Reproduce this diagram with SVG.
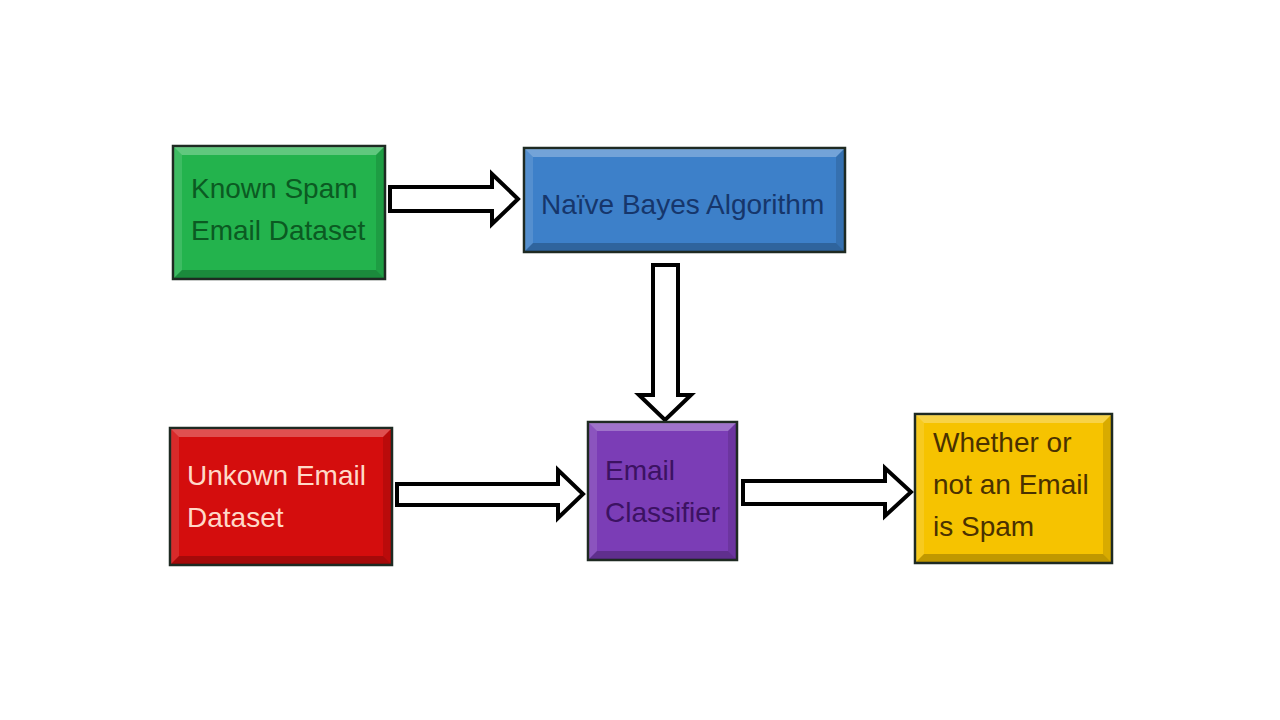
<svg xmlns="http://www.w3.org/2000/svg" width="1280" height="720" viewBox="0 0 1280 720">
<style>
.box{stroke:#1e2a22;stroke-width:2.5}
.hl{fill:#ffffff;opacity:0.28}
.hs{fill:#ffffff;opacity:0.12}
.sh{fill:#000000;opacity:0.22}
.ss{fill:#000000;opacity:0.12}
.arrow{fill:#ffffff;stroke:#000000;stroke-width:4;stroke-linejoin:miter}
text{font-family:"Liberation Sans",Arial,sans-serif;font-size:28px}
</style>
<rect width="1280" height="720" fill="#ffffff"/>
<g id="connectors">
<path class="arrow" d="M390,187 L492,187 L492,174 L518,199 L492,224 L492,211 L390,211 Z"/>
<path class="arrow" d="M653,265 L678,265 L678,395 L691,395 L665,420 L639,395 L653,395 Z"/>
<path class="arrow" d="M397,484 L558,484 L558,470 L583,494 L558,518 L558,505 L397,505 Z"/>
<path class="arrow" d="M743,481 L885,481 L885,468 L911,492 L885,516 L885,504 L743,504 Z"/>
</g>
<g id="known">
<rect class="box" x="173" y="146" width="212" height="133" fill="#23b34d"/>
<polygon class="hl" points="174,147 384,147 376,155 182,155"/>
<polygon class="hs" points="174,147 182,155 182,270 174,278"/>
<polygon class="sh" points="174,278 384,278 376,270 182,270"/>
<polygon class="ss" points="384,147 384,278 376,270 376,155"/>
<text x="191" y="198" fill="#0b5a22">Known Spam</text>
<text x="191" y="240" fill="#0b5a22">Email Dataset</text>
</g>
<g id="naive">
<rect class="box" x="524" y="148" width="321" height="104" fill="#3d80c9"/>
<polygon class="hl" points="525,149 844,149 836,157 533,157"/>
<polygon class="hs" points="525,149 533,157 533,243 525,251"/>
<polygon class="sh" points="525,251 844,251 836,243 533,243"/>
<polygon class="ss" points="844,149 844,251 836,243 836,157"/>
<text x="541" y="214" fill="#16366b">Naïve Bayes Algorithm</text>
</g>
<g id="unknown">
<rect class="box" x="170" y="428" width="222" height="137" fill="#d40d0d"/>
<polygon class="hl" points="171,429 391,429 383,437 179,437"/>
<polygon class="hs" points="171,429 179,437 179,556 171,564"/>
<polygon class="sh" points="171,564 391,564 383,556 179,556"/>
<polygon class="ss" points="391,429 391,564 383,556 383,437"/>
<text x="187" y="485" fill="#ffd9c8">Unkown Email</text>
<text x="187" y="527" fill="#ffd9c8">Dataset</text>
</g>
<g id="classifier">
<rect class="box" x="588" y="422" width="149" height="138" fill="#7b3db6"/>
<polygon class="hl" points="589,423 736,423 728,431 597,431"/>
<polygon class="hs" points="589,423 597,431 597,551 589,559"/>
<polygon class="sh" points="589,559 736,559 728,551 597,551"/>
<polygon class="ss" points="736,423 736,559 728,551 728,431"/>
<text x="605" y="480" fill="#3c1262">Email</text>
<text x="605" y="522" fill="#3c1262">Classifier</text>
</g>
<g id="result">
<rect class="box" x="915" y="414" width="197" height="149" fill="#f6c300"/>
<polygon class="hl" points="916,415 1111,415 1103,423 924,423"/>
<polygon class="hs" points="916,415 924,423 924,554 916,562"/>
<polygon class="sh" points="916,562 1111,562 1103,554 924,554"/>
<polygon class="ss" points="1111,415 1111,562 1103,554 1103,423"/>
<text x="933" y="452" fill="#4a3100">Whether or</text>
<text x="933" y="494" fill="#4a3100">not an Email</text>
<text x="933" y="536" fill="#4a3100">is Spam</text>
</g>
</svg>
